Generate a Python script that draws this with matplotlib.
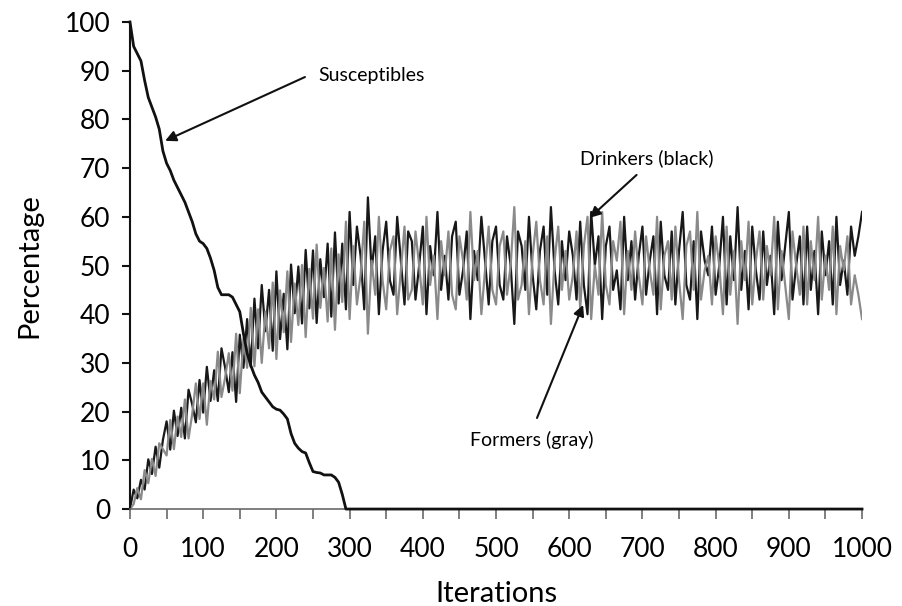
import matplotlib
matplotlib.use("Agg")
import matplotlib.pyplot as plt

plt.rcParams['font.family'] = ['Lato', 'DejaVu Sans']

# iterations sampled every 5 steps
iteraciones = list(range(0, 1001, 5))

# susceptibles (% of population), 0 after iteration 295
susceptibles = [100, 95, 93.5, 92, 88, 84.5, 82.5, 80.5, 78, 73.5,
                71, 69.5, 67.5, 66, 64.5, 63, 61, 59, 56.5, 55,
                54.5, 53.5, 51.5, 49, 45.5, 44, 44, 44, 43.5, 42,
                40.5, 36, 32, 29.5, 27.5, 26, 24, 23, 22, 21,
                20.5, 20.3, 19.5, 18.5, 15.5, 13.5, 12.5, 11.8, 11.5, 9.5,
                7.7, 7.5, 7.4, 7, 7, 7, 6.5, 5.5, 3, 0] + [0] * 141

# drinkers (black)
bebedores = [0, 4, 2.2, 6, 4, 10.2, 7.2, 12.8, 8.5, 14.2,
             18, 12.2, 20.2, 15, 20.8, 14.5, 24.5, 21.5, 17.8, 26.5,
             19.8, 29.2, 22.2, 28.5, 22.2, 33, 29, 24, 32.2, 22,
             35.8, 29, 39, 29.2, 43.2, 33, 46, 36.5, 45, 32.5,
             48.8, 34.9, 44.2, 32.8, 50.2, 40.2, 49.8, 38.1, 53.2, 41.2,
             53.1, 38.2, 51.3, 43.5, 54.5, 39.5, 56.8, 42.2, 54.5, 41,
             61, 46, 58, 52, 41, 64, 49, 56, 40, 53,
             59, 47, 44, 60, 51, 42, 57, 55, 43, 50,
             58, 40, 54, 48, 61, 45, 52, 43, 56, 59,
             44, 49, 57, 39, 53, 47, 60, 51, 42, 55,
             58, 46, 43, 56, 50, 38, 57, 54, 45, 60,
             48, 41, 53, 58, 44, 62, 49, 42, 55, 47,
             57, 52, 43, 59, 46, 40, 61, 50, 56, 39,
             54, 58, 45, 49, 41, 60, 47, 55, 43, 52,
             58, 44, 51, 56, 40, 59, 48, 45, 57, 42,
             53, 61, 46, 43, 55, 39, 57, 51, 48, 58,
             44, 50, 60, 42, 56, 47, 62, 45, 53, 41,
             58, 49, 43, 57, 46, 52, 40, 59, 47, 54,
             61, 43, 50, 56, 42, 58, 45, 53, 40, 57,
             48, 55, 42, 60, 46, 51, 44, 58, 52, 56,
             61]

# formers (gray)
exbebedores = [0, 1, 4.3, 2, 8, 5.3, 10.3, 6.8, 13.5, 12.3,
               11, 18.3, 12.3, 19, 14.8, 22.5, 14.5, 19.5, 25.8, 18.5,
               25.8, 17.3, 26.3, 22.5, 32.3, 23, 27, 32, 24.3, 36,
               23.8, 35, 29, 41.3, 29.3, 41, 30, 40.5, 33, 46.5,
               30.8, 44.9, 36.3, 48.8, 34.3, 46.3, 37.8, 50.1, 35.3, 49.3,
               39.1, 54.3, 41.3, 49.5, 38.5, 53.5, 36.8, 52.3, 42.5, 59,
               39, 54, 42, 48, 59, 36, 51, 44, 60, 47,
               41, 53, 56, 40, 49, 58, 43, 45, 57, 50,
               42, 60, 46, 52, 39, 55, 48, 57, 44, 41,
               56, 51, 43, 61, 47, 53, 40, 49, 58, 45,
               42, 54, 57, 44, 50, 62, 43, 46, 55, 40,
               52, 59, 47, 42, 56, 38, 51, 58, 45, 53,
               43, 48, 57, 41, 54, 60, 39, 50, 44, 61,
               46, 42, 55, 51, 59, 40, 53, 45, 57, 48,
               42, 56, 49, 44, 60, 41, 52, 55, 43, 58,
               47, 39, 54, 57, 45, 61, 43, 49, 52, 42,
               56, 50, 40, 58, 44, 53, 38, 55, 47, 59,
               42, 51, 57, 43, 54, 48, 60, 41, 53, 46,
               39, 57, 50, 44, 58, 42, 55, 47, 60, 43,
               52, 45, 58, 40, 54, 49, 56, 42, 48, 44,
               39]

fig = plt.figure(figsize=(9.02, 6.06), dpi=100)
ax = fig.add_axes([0.1441, 0.160, 0.8116, 0.8037])

ax.plot(iteraciones, bebedores, color='#181818', lw=1.6)
ax.plot(iteraciones, exbebedores, color='#8a8a8a', lw=1.6)
ax.plot(iteraciones, susceptibles, color='#111111', lw=2.0,
        clip_on=False, zorder=5)

ax.set_xlim(0, 1000)
ax.set_ylim(0, 100)
ax.set_xticks(range(0, 1001, 100))
ax.set_xticks(range(0, 1001, 50), minor=True)
ax.set_yticks(range(0, 101, 10))

for s in ['top', 'right']:
    ax.spines[s].set_visible(False)
ax.spines['left'].set_color('#111111')
ax.spines['left'].set_linewidth(1.5)
ax.spines['bottom'].set_color('#6a6a6a')
ax.spines['bottom'].set_linewidth(1.2)

ax.tick_params(axis='x', which='both', direction='out', length=7, width=1.2,
               color='#6a6a6a', labelsize=19, pad=13)
ax.tick_params(axis='y', direction='out', length=6, width=1.5,
               color='#111111', labelsize=19, pad=8)

ax.set_xlabel('Iterations', fontsize=21, labelpad=14)
ax.set_ylabel('Percentage', fontsize=21, labelpad=16)

flecha = dict(arrowstyle='-|>', color='#111111', lw=1.5, mutation_scale=16,
              shrinkA=0, shrinkB=0)
ax.annotate('', xy=(48, 75.6), xytext=(239, 88.7), arrowprops=flecha)
ax.text(257, 89.1, 'Susceptibles', fontsize=14, va='center', ha='left')
ax.annotate('', xy=(628, 59.8), xytext=(692, 68.6), arrowprops=flecha)
ax.text(615, 72, 'Drinkers (black)', fontsize=14, va='center', ha='left')
ax.annotate('', xy=(619, 41.9), xytext=(556, 18.7), arrowprops=flecha)
ax.text(464, 14.2, 'Formers (gray)', fontsize=14, va='center', ha='left')

plt.savefig('out.png', dpi=100)
